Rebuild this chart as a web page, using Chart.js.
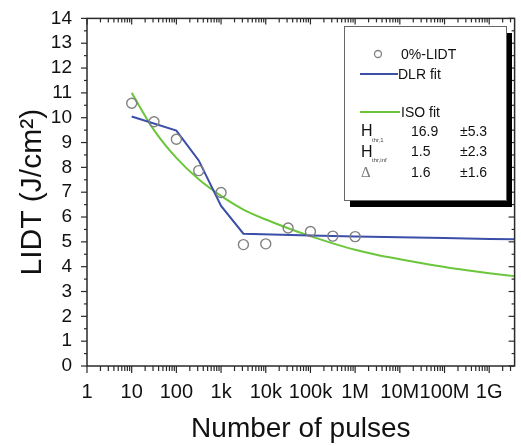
<!DOCTYPE html>
<html>
<head>
<meta charset="utf-8">
<script src="https://cdn.jsdelivr.net/npm/chart.js@4.4.1/dist/chart.umd.min.js"></script>
<style>
  html, body { margin: 0; padding: 0; background: #ffffff; }
  #wrap { width: 521px; height: 446px; position: relative; }
</style>
</head>
<body>
<div id="wrap"><canvas id="c" width="521" height="446"></canvas></div>
<script>
// ---- data ----
const measPulses = [10, 31.6, 100, 316, 1000, 3162, 10000, 31623, 100000, 316228, 1000000];
const measLidt   = [10.58, 9.84, 9.13, 7.87, 6.99, 4.89, 4.92, 5.56, 5.42, 5.23, 5.21];

const dlrPulses = [10, 100, 316, 1000, 3162, 100000, 1000000, 1e7, 1e8, 1e9, 3.7e9];
const dlrLidt   = [10.05, 9.48, 8.28, 6.45, 5.33, 5.26, 5.22, 5.19, 5.16, 5.12, 5.1];

const isoPulses = [10, 31.6, 100, 316, 1000, 3162, 10000, 31623, 100000, 316228, 1e6, 3.16e6, 1e7, 3.16e7, 1e8, 3.16e8, 1e9, 3.7e9];
const isoLidt   = [11.0, 9.5, 8.38, 7.52, 6.85, 6.3, 5.9, 5.55, 5.23, 4.94, 4.68, 4.47, 4.3, 4.14, 3.99, 3.86, 3.74, 3.62];

const xTickValues = [1, 10, 100, 1000, 10000, 100000, 1e6, 1e7, 1e8, 1e9];
const xTickLabels = ['1', '10', '100', '1k', '10k', '100k', '1M', '10M', '100M', '1G'];
const yTickValues = [0,1,2,3,4,5,6,7,8,9,10,11,12,13,14];

const legendRows = [
  { sym: 'H', sub: 'thr,1',   val: '16.9', err: '\u00b15.3' },
  { sym: 'H', sub: 'thr,inf', val: '1.5',  err: '\u00b12.3' },
  { sym: '\u0394', sub: '',   val: '1.6',  err: '\u00b11.6' }
];

const FONT = "'Liberation Sans', Arial, Helvetica, sans-serif";
const BLUE = '#3b4ea8';
const GREEN = '#6cc63c';
const GRAY = '#808080';
const AXIS = '#2a2a2a';

const toXY = (xs, ys) => xs.map((x, i) => ({ x: x, y: ys[i] }));

function tick(ctx, x1, y1, x2, y2) {
  ctx.beginPath();
  ctx.moveTo(x1, y1);
  ctx.lineTo(x2, y2);
  ctx.stroke();
}

const framePlugin = {
  id: 'frame',
  afterDraw(chart) {
    const ctx = chart.ctx;
    const a = chart.chartArea;
    const xs = chart.scales.x, ys = chart.scales.y;
    ctx.save();
    ctx.strokeStyle = AXIS;
    ctx.lineWidth = 1.5;
    ctx.strokeRect(a.left, a.top, a.right - a.left, a.bottom - a.top);
    ctx.lineWidth = 1.2;
    // x ticks (major + minor)
    for (let k = 0; k <= 9; k++) {
      for (let m = 1; m <= 9; m++) {
        const v = m * Math.pow(10, k);
        if (v > 3.7e9) continue;
        const px = xs.getPixelForValue(v);
        const major = (m === 1);
        tick(ctx, px, a.bottom, px, a.bottom + (major ? 7 : 5));
        tick(ctx, px, a.top, px, a.top + (major ? 6 : 4));
      }
    }
    // y ticks
    for (let i = 0; i <= 28; i++) {
      const v = i / 2;
      const py = ys.getPixelForValue(v);
      const major = (i % 2 === 0);
      tick(ctx, a.left, py, a.left - (major ? 6 : 3), py);
      tick(ctx, a.right, py, a.right - (major ? 6 : 3), py);
    }

    // ---- legend box ----
    const bx = 344, by = 26, bw = 162, bh = 174;
    ctx.fillStyle = '#000';
    ctx.fillRect(bx + 6, by + 7, bw, bh);
    ctx.fillStyle = '#fff';
    ctx.fillRect(bx, by, bw, bh);
    ctx.strokeStyle = '#666';
    ctx.lineWidth = 1;
    ctx.strokeRect(bx + 0.5, by + 0.5, bw, bh);

    ctx.textBaseline = 'middle';
    ctx.textAlign = 'left';
    ctx.font = '14px ' + FONT;
    ctx.fillStyle = '#111';
    // circle
    ctx.beginPath();
    ctx.strokeStyle = GRAY; ctx.lineWidth = 1.3;
    ctx.arc(378, 54, 3.5, 0, Math.PI * 2);
    ctx.stroke();
    ctx.fillText('0%-LIDT', 401, 55);
    // DLR
    ctx.strokeStyle = BLUE; ctx.lineWidth = 2;
    tick(ctx, 360, 74, 398, 74);
    ctx.fillText('DLR fit', 398, 75);
    // ISO
    ctx.strokeStyle = GREEN; ctx.lineWidth = 2;
    tick(ctx, 360, 112, 400, 112);
    ctx.fillText('ISO fit', 401, 113);
    // table
    const rowY = [132, 152.5, 173];
    legendRows.forEach((r, i) => {
      const y = rowY[i];
      if (r.sub) {
        ctx.font = '16px ' + FONT; ctx.fillStyle = '#111';
        ctx.fillText(r.sym, 361, y);
        ctx.font = '6px ' + FONT; ctx.fillStyle = '#444';
        ctx.fillText(r.sub, 372, y + 8);
      } else {
        ctx.font = "15px 'Liberation Serif', 'DejaVu Serif', serif"; ctx.fillStyle = '#777';
        ctx.fillText(r.sym, 361, y);
      }
      ctx.font = '14px ' + FONT; ctx.fillStyle = '#111';
      ctx.fillText(r.val, 411, y);
      ctx.fillText(r.err, 460, y);
    });
    ctx.restore();
  }
};

new Chart(document.getElementById('c'), {
  type: 'scatter',
  data: {
    datasets: [
      {
        label: 'DLR fit',
        data: toXY(dlrPulses, dlrLidt),
        showLine: true,
        borderColor: BLUE,
        borderWidth: 2,
        pointRadius: 0,
        tension: 0,
        order: 2
      },
      {
        label: 'ISO fit',
        data: toXY(isoPulses, isoLidt),
        showLine: true,
        borderColor: GREEN,
        borderWidth: 2,
        pointRadius: 0,
        cubicInterpolationMode: 'monotone',
        order: 3
      },
      {
        label: '0%-LIDT',
        data: toXY(measPulses, measLidt),
        showLine: false,
        pointStyle: 'circle',
        pointRadius: 5,
        pointBorderWidth: 1.4,
        pointBorderColor: GRAY,
        pointBackgroundColor: 'rgba(0,0,0,0)',
        order: 1
      }
    ]
  },
  options: {
    responsive: false,
    animation: false,
    layout: { padding: { top: 15, right: 3, left: 0, bottom: 0 } },
    plugins: { legend: { display: false }, tooltip: { enabled: false } },
    scales: {
      x: {
        type: 'logarithmic',
        position: 'bottom',
        min: 1,
        max: 3.7e9,
        grid: { display: false },
        border: { display: false },
        afterBuildTicks: (s) => { s.ticks = xTickValues.map(v => ({ value: v })); },
        afterFit: (s) => { s.height = 80; },
        ticks: {
          autoSkip: false,
          maxRotation: 0,
          padding: 6,
          color: '#111',
          font: { size: 20, family: FONT },
          callback: (v) => {
            const i = xTickValues.indexOf(v);
            return i >= 0 ? xTickLabels[i] : '';
          }
        },
        title: {
          display: true,
          text: 'Number of pulses',
          color: '#111',
          font: { size: 28, family: FONT },
          padding: { top: 0, bottom: 0 }
        }
      },
      y: {
        type: 'linear',
        min: 0,
        max: 14,
        grid: { display: false },
        border: { display: false },
        afterBuildTicks: (s) => { s.ticks = yTickValues.map(v => ({ value: v })); },
        afterFit: (s) => { s.width = 87; },
        ticks: {
          autoSkip: false,
          padding: 7,
          color: '#111',
          font: { size: 19, family: FONT }
        },
        title: {
          display: true,
          text: 'LIDT (J/cm\u00b2)',
          color: '#111',
          font: { size: 30, family: FONT },
          padding: { top: 15, bottom: 0 }
        }
      }
    }
  },
  plugins: [framePlugin]
});
</script>
</body>
</html>
